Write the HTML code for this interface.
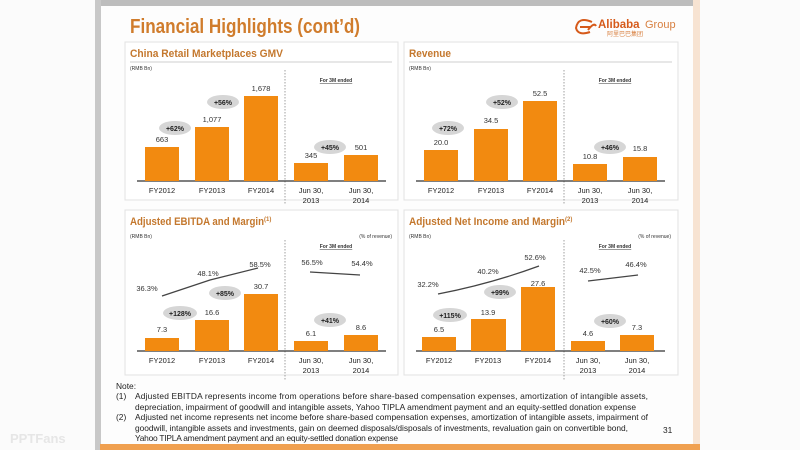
<!DOCTYPE html>
<html><head><meta charset="utf-8"><style>
html,body{margin:0;padding:0;background:#fff;}
svg{display:block;font-family:"Liberation Sans","Noto Sans CJK SC",sans-serif;}
.t{font-weight:bold;fill:#c4782e;font-size:11px}
.s{font-size:5px;fill:#333}
.v{font-size:7.5px;fill:#333;text-anchor:middle}
.x{font-size:7.5px;fill:#222;text-anchor:middle}
.e{font-size:7px;font-weight:bold;fill:#222;text-anchor:middle}
.n{font-size:8.4px;fill:#222}
</style></head><body>
<svg width="800" height="450" viewBox="0 0 800 450">
<rect x="0" y="0" width="800" height="450" fill="#fbfbfb"/>
<rect x="100" y="0" width="600" height="450" fill="#fdfdfd"/>
<rect x="100" y="0" width="600" height="6" fill="#bdbdbd"/>
<rect x="95" y="0" width="6" height="450" fill="#c8c8c8"/>
<rect x="693" y="0" width="7" height="445" fill="#f7e3d2"/>
<rect x="100" y="444" width="600" height="6" fill="#f0a050"/>
<text x="10" y="443" font-size="13" fill="#e6e6e6" font-weight="bold">PPTFans</text>
<text x="130" y="33" font-size="20" font-weight="bold" fill="#d07c2c" textLength="230" lengthAdjust="spacingAndGlyphs">Financial Highlights (cont’d)</text>
<text x="598" y="28" font-size="11.5" font-weight="bold" fill="#d65a1a">Alibaba</text>
<text x="645" y="28" font-size="11" fill="#d88040">Group</text>
<text x="607" y="36" font-size="6" fill="#d88040">阿里巴巴集团</text>
<path d="M592 22 q-14 -6 -16 6 q2 8 14 4 M580 27 h10 M588 30 q6 -8 8 -4" stroke="#d65a1a" stroke-width="2" fill="none"/>

<g id="panels" fill="none" stroke="#e2e2e2">
<rect x="125" y="42" width="273" height="158" fill="#fff"/>
<rect x="404" y="42" width="274" height="158" fill="#fff"/>
<rect x="125" y="210" width="273" height="165" fill="#fff"/>
<rect x="404" y="210" width="274" height="165" fill="#fff"/>
</g>
<g stroke="#cfcfcf" stroke-width="1">
<line x1="130" y1="62" x2="392" y2="62"/><line x1="409" y1="62" x2="672" y2="62"/>
</g>
<text class="t" x="130" y="57" textLength="153" lengthAdjust="spacingAndGlyphs">China Retail Marketplaces GMV</text>
<text class="t" x="409" y="57" textLength="42" lengthAdjust="spacingAndGlyphs">Revenue</text>
<text class="t" x="130" y="225"><tspan textLength="134" lengthAdjust="spacingAndGlyphs">Adjusted EBITDA and Margin</tspan><tspan font-size="6" dy="-4">(1)</tspan></text>
<text class="t" x="409" y="225"><tspan textLength="156" lengthAdjust="spacingAndGlyphs">Adjusted Net Income and Margin</tspan><tspan font-size="6" dy="-4">(2)</tspan></text>
<text class="s" x="130" y="70">(RMB Bn)</text><text class="s" x="409" y="70">(RMB Bn)</text>
<text class="s" x="130" y="238">(RMB Bn)</text><text class="s" x="409" y="238">(RMB Bn)</text>
<text class="s" x="392" y="238" text-anchor="end">(% of revenue)</text>
<text class="s" x="671" y="238" text-anchor="end">(% of revenue)</text>
<g class="s" font-weight="bold" text-decoration="underline" text-anchor="middle">
<text x="336" y="82">For 3M ended</text><text x="615" y="82">For 3M ended</text>
<text x="336" y="248">For 3M ended</text><text x="615" y="248">For 3M ended</text>
</g>
<g stroke="#888" stroke-width="0.8" stroke-dasharray="1.5,1.5">
<line x1="285" y1="70" x2="285" y2="205"/><line x1="564" y1="70" x2="564" y2="205"/>
<line x1="285" y1="240" x2="285" y2="380"/><line x1="564" y1="240" x2="564" y2="380"/>
</g>
<g stroke="#333" stroke-width="1.2">
<line x1="137" y1="181" x2="386" y2="181"/><line x1="416" y1="181" x2="665" y2="181"/>
<line x1="137" y1="351" x2="386" y2="351"/><line x1="416" y1="351" x2="665" y2="351"/>
</g>
<g fill="#f28a10">
<rect x="145" y="147" width="34" height="34"/><rect x="195" y="127" width="34" height="54"/><rect x="244" y="96" width="34" height="85"/><rect x="294" y="163" width="34" height="18"/><rect x="344" y="155" width="34" height="26"/>
<rect x="424" y="150" width="34" height="31"/><rect x="474" y="129" width="34" height="52"/><rect x="523" y="101" width="34" height="80"/><rect x="573" y="164" width="34" height="17"/><rect x="623" y="157" width="34" height="24"/>
<rect x="145" y="338" width="34" height="13"/><rect x="195" y="320" width="34" height="31"/><rect x="244" y="294" width="34" height="57"/><rect x="294" y="341" width="34" height="10"/><rect x="344" y="335" width="34" height="16"/>
<rect x="422" y="337" width="34" height="14"/><rect x="471" y="319" width="35" height="32"/><rect x="521" y="287" width="34" height="64"/><rect x="571" y="341" width="34" height="10"/><rect x="620" y="335" width="34" height="16"/>
</g>
<g>
<text class="v" x="162" y="142">663</text><text class="v" x="212" y="122">1,077</text><text class="v" x="261" y="91">1,678</text><text class="v" x="311" y="158">345</text><text class="v" x="361" y="150">501</text>
<text class="v" x="441" y="145">20.0</text><text class="v" x="491" y="123">34.5</text><text class="v" x="540" y="96">52.5</text><text class="v" x="590" y="159">10.8</text><text class="v" x="640" y="151">15.8</text>
<text class="v" x="162" y="332">7.3</text><text class="v" x="212" y="315">16.6</text><text class="v" x="261" y="289">30.7</text><text class="v" x="311" y="336">6.1</text><text class="v" x="361" y="330">8.6</text>
<text class="v" x="439" y="332">6.5</text><text class="v" x="488" y="315">13.9</text><text class="v" x="538" y="286">27.6</text><text class="v" x="588" y="336">4.6</text><text class="v" x="637" y="330">7.3</text>
</g>
<g fill="#d6d6d6">
<ellipse cx="175" cy="128" rx="16" ry="7"/><ellipse cx="223" cy="102" rx="16" ry="7"/><ellipse cx="330" cy="147" rx="16" ry="7"/>
<ellipse cx="448" cy="128" rx="16" ry="7"/><ellipse cx="502" cy="102" rx="16" ry="7"/><ellipse cx="610" cy="147" rx="16" ry="7"/>
<ellipse cx="180" cy="313" rx="17" ry="7"/><ellipse cx="225" cy="293" rx="16" ry="7"/><ellipse cx="330" cy="320" rx="16" ry="7"/>
<ellipse cx="450" cy="315" rx="17" ry="7"/><ellipse cx="500" cy="292" rx="16" ry="7"/><ellipse cx="610" cy="321" rx="16" ry="7"/>
</g>
<g>
<text class="e" x="175" y="131">+62%</text><text class="e" x="223" y="105">+56%</text><text class="e" x="330" y="150">+45%</text>
<text class="e" x="448" y="131">+72%</text><text class="e" x="502" y="105">+52%</text><text class="e" x="610" y="150">+46%</text>
<text class="e" x="180" y="316">+128%</text><text class="e" x="225" y="296">+85%</text><text class="e" x="330" y="323">+41%</text>
<text class="e" x="450" y="318">+115%</text><text class="e" x="500" y="295">+99%</text><text class="e" x="610" y="324">+60%</text>
</g>
<g stroke="#444" stroke-width="1.3" fill="none">
<path d="M162 296 L210 280 L258 268"/><path d="M310 272 L360 275"/>
<path d="M438 294 Q490 284 539 266"/><path d="M588 281 L638 275"/>
</g>
<g class="v">
<text x="147" y="291">36.3%</text><text x="208" y="276">48.1%</text><text x="260" y="267">58.5%</text><text x="312" y="265">56.5%</text><text x="362" y="266">54.4%</text>
<text x="428" y="287">32.2%</text><text x="488" y="274">40.2%</text><text x="535" y="260">52.6%</text><text x="590" y="273">42.5%</text><text x="636" y="267">46.4%</text>
</g>
<g class="x">
<text x="162" y="193">FY2012</text><text x="212" y="193">FY2013</text><text x="261" y="193">FY2014</text><text x="311" y="193">Jun 30,</text><text x="311" y="203">2013</text><text x="361" y="193">Jun 30,</text><text x="361" y="203">2014</text>
<text x="441" y="193">FY2012</text><text x="491" y="193">FY2013</text><text x="540" y="193">FY2014</text><text x="590" y="193">Jun 30,</text><text x="590" y="203">2013</text><text x="640" y="193">Jun 30,</text><text x="640" y="203">2014</text>
<text x="162" y="363">FY2012</text><text x="212" y="363">FY2013</text><text x="261" y="363">FY2014</text><text x="311" y="363">Jun 30,</text><text x="311" y="373">2013</text><text x="361" y="363">Jun 30,</text><text x="361" y="373">2014</text>
<text x="439" y="363">FY2012</text><text x="488" y="363">FY2013</text><text x="538" y="363">FY2014</text><text x="588" y="363">Jun 30,</text><text x="588" y="373">2013</text><text x="637" y="363">Jun 30,</text><text x="637" y="373">2014</text>
</g>
<g class="n">
<text x="116" y="389">Note:</text>
<text x="116" y="399">(1)</text><text x="135" y="399" textLength="513" lengthAdjust="spacing">Adjusted EBITDA represents income from operations before share-based compensation expenses, amortization of intangible assets,</text>
<text x="135" y="410" textLength="501" lengthAdjust="spacing">depreciation, impairment of goodwill and intangible assets, Yahoo TIPLA amendment payment and an equity-settled donation expense</text>
<text x="116" y="420">(2)</text><text x="135" y="420" textLength="513" lengthAdjust="spacing">Adjusted net income represents net income before share-based compensation expenses, amortization of intangible assets, impairment of</text>
<text x="135" y="431" textLength="493" lengthAdjust="spacing">goodwill, intangible assets and investments, gain on deemed disposals/disposals of investments, revaluation gain on convertible bond,</text>
<text x="135" y="441" textLength="263" lengthAdjust="spacing">Yahoo TIPLA amendment payment and an equity-settled donation expense</text>
<text x="663" y="433">31</text>
</g>
</svg>
</body></html>
